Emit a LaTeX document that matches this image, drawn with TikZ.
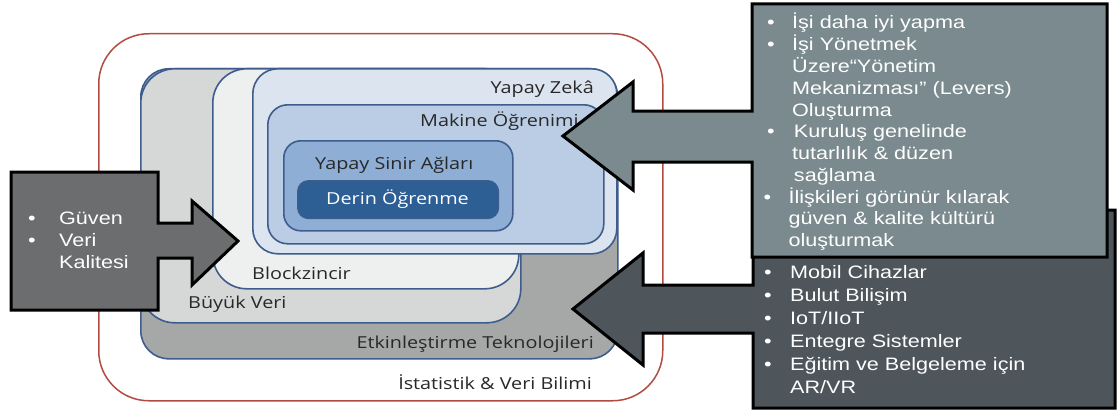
\documentclass[tikz,border=0pt]{standalone}
\usepackage{graphicx}
\usepackage{fontspec}
\setmainfont{Liberation Sans}
\newfontfamily\labfont{Open Sans}
\definecolor{redline}{RGB}{178,76,66}
\definecolor{blueline}{RGB}{62,92,140}
\definecolor{eFill}{RGB}{166,168,168}
\definecolor{bFill}{RGB}{214,216,216}
\definecolor{cFill}{RGB}{238,240,240}
\definecolor{yFill}{RGB}{220,229,239}
\definecolor{mFill}{RGB}{186,205,229}
\definecolor{sFill}{RGB}{142,174,214}
\definecolor{dFill}{RGB}{46,95,148}
\definecolor{leftFill}{RGB}{108,109,111}
\definecolor{trFill}{RGB}{122,138,143}
\definecolor{brFill}{RGB}{78,86,92}
\definecolor{labtext}{RGB}{40,40,40}
\newcommand{\hsc}[1]{\scalebox{1.2}[1]{#1}}
\tikzset{
  layer/.style={draw=blueline, line width=1.6pt, anchor=north west, inner sep=0pt},
  lab/.style={inner sep=0pt, text=labtext, font=\labfont\fontsize{16.5}{18}\selectfont},
  callout/.style={draw=black, line width=3pt, line join=miter},
  ctext/.style={inner sep=0pt, anchor=north west, text=white},
}
\begin{document}
\begin{tikzpicture}[x=1pt,y=-1pt]
\useasboundingbox (0,0) rectangle (1117,412);
\fill[white] (0,0) rectangle (1117,412);
% outer red frame
\node[draw=redline, line width=1.5pt, rounded corners=50pt, minimum width=564pt, minimum height=367pt, anchor=north west, inner sep=0pt] (stat) at (98,33) {};
% nested layers
\node[layer, fill=eFill, rounded corners=28pt, minimum width=477pt, minimum height=290pt] (etk) at (140,68) {};
\node[layer, fill=bFill, rounded corners=34pt, minimum width=380pt, minimum height=254pt] (buyuk) at (140,68) {};
\node[layer, fill=cFill, rounded corners=34pt, minimum width=306pt, minimum height=220pt] (block) at (212,68) {};
\node[layer, fill=yFill, rounded corners=25pt, minimum width=364pt, minimum height=185pt] (yz) at (252,68) {};
\node[layer, fill=mFill, rounded corners=20pt, minimum width=336pt, minimum height=139pt] (mak) at (267,104) {};
\node[layer, fill=sFill, rounded corners=17pt, minimum width=229pt, minimum height=90pt] (ysa) at (283,140) {};
\node[draw=blueline, line width=1.2pt, fill=dFill, rounded corners=11pt, minimum width=201pt, minimum height=38pt, anchor=north west, inner sep=0pt] (derin) at (297,180) {};
% labels
\node[lab, anchor=base east] (lyz) at (594,94) {\hsc{Yapay Zekâ}};
\node[lab, anchor=base west] (lmak) at (420,126) {\hsc{Makine Öğrenimi}};
\node[lab, anchor=base west] (lysa) at (315,169) {\hsc{Yapay Sinir Ağları}};
\node[lab, anchor=base, text=white] (lder) at (397.5,204) {\hsc{Derin Öğrenme}};
\node[lab, anchor=base west] (lblk) at (252,279) {\hsc{Blockzincir}};
\node[lab, anchor=base west] (lbuy) at (188,308) {\hsc{Büyük Veri}};
\node[lab, anchor=base east] (letk) at (594,348) {\hsc{Etkinleştirme Teknolojileri}};
\node[lab, anchor=base east] (lstat) at (592,389) {\hsc{İstatistik \& Veri Bilimi}};
% left callout
\draw[callout, fill=leftFill] (11,172) -- (158,172) -- (158,223) -- (192,223) -- (192,201) -- (238,241) -- (192,285) -- (192,258) -- (158,258) -- (158,310) -- (11,310) -- cycle;
\node[ctext] (ltxt) at (28,209) {\hsc{\fontsize{18}{22}\selectfont\begin{tabular}{@{}l@{\hspace{19.5pt}}l@{}}
•&Güven\\
•&Veri\\
&Kalitesi
\end{tabular}}};
% bottom-right callout
\draw[callout, fill=brFill] (753,210) -- (1115,210) -- (1115,408) -- (753,408) -- (753,333) -- (643,333) -- (643,365) -- (573,309) -- (643,253) -- (643,285) -- (753,285) -- cycle;
\node[ctext] (brtxt) at (764,262) {\hsc{\fontsize{18}{23}\selectfont\begin{tabular}{@{}l@{\hspace{15.3pt}}l@{}}
•&Mobil Cihazlar\\
•&Bulut Bilişim\\
•&IoT/IIoT\\
•&Entegre Sistemler\\
•&Eğitim ve Belgeleme için\\
&AR/VR
\end{tabular}}};
% top-right callout
\draw[callout, fill=trFill] (752,4) -- (1107,4) -- (1107,257) -- (752,257) -- (752,162) -- (633,162) -- (633,190) -- (563,136) -- (633,82) -- (633,111) -- (752,111) -- cycle;
\node[ctext] (trtxt) at (767,13) {\hsc{\fontsize{18}{21.7}\selectfont\begin{tabular}{@{}l@{\hspace{14.5pt}}l@{}}
•&İşi daha iyi yapma\\
•&İşi Yönetmek\\
&Üzere“Yönetim\\
&Mekanizması” (Levers)\\
&Oluşturma\\
•&\hspace{1.5pt}Kuruluş genelinde\\
&tutarlılık \& düzen\\
&\hspace{1.5pt}sağlama\\
\hspace{-3pt}•&\hspace{-3pt}İlişkileri görünür kılarak\\
&\hspace{-3pt}güven \& kalite kültürü\\
&\hspace{-3pt}oluşturmak
\end{tabular}}};
\end{tikzpicture}
\end{document}
